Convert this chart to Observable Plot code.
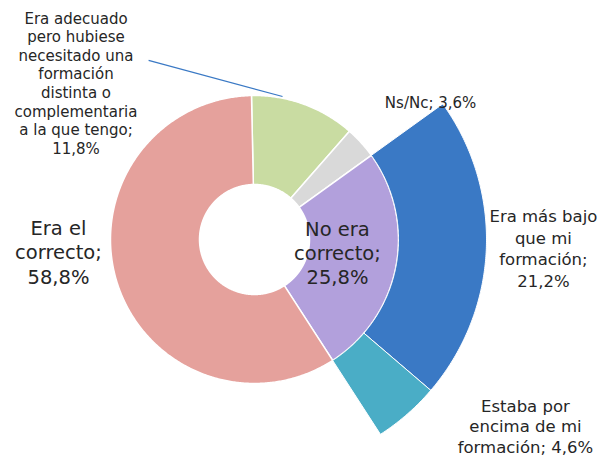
<!DOCTYPE html>
<html>
<head>
<meta charset="utf-8">
<script src="https://cdn.jsdelivr.net/npm/d3@7"></script>
<script src="https://cdn.jsdelivr.net/npm/@observablehq/plot@0.6"></script>
<style>
  html, body { margin: 0; padding: 0; background: #fff; }
</style>
</head>
<body>
<div id="chart"></div>
<script>
// ---- Data ----
const mainCategories = [
  "Era adecuado pero hubiese necesitado una formación distinta o complementaria a la que tengo",
  "Ns/Nc",
  "No era correcto",
  "Era el correcto"
];
const mainValues = [11.8, 3.6, 25.8, 58.8];
const mainColors = ["#C9DCA2", "#D9D9D9", "#B2A0DC", "#E5A19C"];

const subCategories = ["Era más bajo que mi formación", "Estaba por encima de mi formación"];
const subValues = [21.2, 4.6];
const subColors = ["#3A79C5", "#4AADC6"];
const subParent = "No era correcto";

const labelTexts = [
  "Era adecuado\npero hubiese\nnecesitado una\nformación\ndistinta o\ncomplementaria\na la que tengo;\n11,8%",
  "Ns/Nc; 3,6%",
  "No era\ncorrecto;\n25,8%",
  "Era el\ncorrecto;\n58,8%",
  "Era más bajo\nque mi\nformación;\n21,2%",
  "Estaba por\nencima de mi\nformación; 4,6%"
];

// ---- Layout (geometry, not data) ----
const W = 597, H = 458;
const R = 144;                 // outer radius of main ring, px
const cx = 254, cy = 239;      // centre, px
const startAngle = -1.2;       // degrees, clockwise from top
const rHole = 55 / R, rMain = 1, rSubIn = 1, rSubOut = 232 / R;
// label placement: [angle deg clockwise from top, radius in ring units, fontSize, lineHeight]
const labelLayout = [
  [311.3, 1.65, 15, 1.24],
  [52.1, 1.55, 15, 1.2],
  [98.9, 0.583, 19.5, 1.22],
  [266.5, 1.364, 19.5, 1.27],
  [91.6, 2.007, 16.5, 1.3],
  [124.5, 2.283, 16.5, 1.25]
];
const leader = [[-30.6, 1.445], [11.1, 1.012]];

const polar = (deg, r) => { const a = deg * Math.PI / 180; return {x: r * Math.sin(a), y: r * Math.cos(a)}; };

function sector(a0, a1, r0, r1) {
  const pts = [];
  const n = Math.max(2, Math.ceil(Math.abs(a1 - a0) / 0.5));
  for (let i = 0; i <= n; i++) pts.push(polar(a0 + (a1 - a0) * i / n, r1));
  for (let i = n; i >= 0; i--) pts.push(polar(a0 + (a1 - a0) * i / n, r0));
  pts.push(pts[0]);
  return pts;
}

const total = d3.sum(mainValues);
let acc = 0;
const mainSlices = mainValues.map((v, i) => {
  const a0 = startAngle + acc / total * 360; acc += v; const a1 = startAngle + acc / total * 360;
  return {name: mainCategories[i], a0, a1, color: mainColors[i]};
});
const parent = mainSlices.find(s => s.name === subParent);
let acc2 = parent.a0;
const subSlices = subValues.map((v, i) => {
  const a0 = acc2; acc2 += v / total * 360;
  return {name: subCategories[i], a0, a1: acc2, color: subColors[i]};
});

const marks = [];
for (const s of mainSlices) {
  marks.push(Plot.line(sector(s.a0, s.a1, rHole, rMain), {x: "x", y: "y", fill: s.color, stroke: "white", strokeWidth: 1.5, curve: "linear"}));
}
for (const s of subSlices) {
  marks.push(Plot.line(sector(s.a0, s.a1, rSubIn, rSubOut), {x: "x", y: "y", fill: s.color, stroke: "white", strokeWidth: 1, curve: "linear"}));
}
const lp = [polar(leader[0][0], leader[0][1]), polar(leader[1][0], leader[1][1])];
marks.push(Plot.link([{x1: lp[0].x, y1: lp[0].y, x2: lp[1].x, y2: lp[1].y}], {x1: "x1", y1: "y1", x2: "x2", y2: "y2", stroke: "#3A79C5", strokeWidth: 1.2}));
labelTexts.forEach((t, i) => {
  const [ang, rr, fs, lh] = labelLayout[i];
  const p = polar(ang, rr);
  marks.push(Plot.text([{x: p.x, y: p.y, t}], {x: "x", y: "y", text: "t", fontSize: fs, lineHeight: lh, fill: "#262626", textAnchor: "middle", lineAnchor: "middle"}));
});

const chart = Plot.plot({
  width: W, height: H,
  marginTop: 0, marginRight: 0, marginBottom: 0, marginLeft: 0,
  style: {fontFamily: "'DejaVu Sans', sans-serif", background: "white"},
  x: {axis: null, domain: [-cx / R, (W - cx) / R], range: [0, W]},
  y: {axis: null, domain: [-(H - cy) / R, cy / R], range: [H, 0]},
  marks
});
document.getElementById("chart").appendChild(chart);
</script>
</body>
</html>
